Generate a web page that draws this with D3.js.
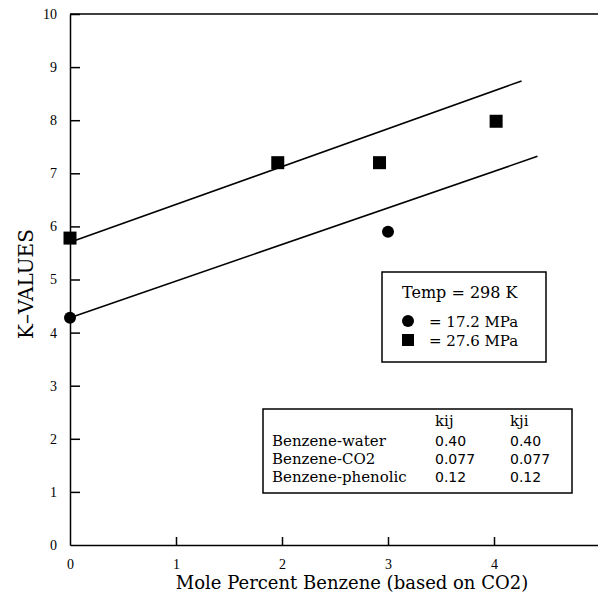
<!DOCTYPE html>
<html>

<head>
  <meta charset="utf-8">
  <title>K-values</title>
  <style>
    body {
      margin: 0;
      background: #fff;
    }

    svg {
      display: block;
    }

    .axis path,
    .axis line {
      stroke: #000;
      stroke-width: 1.5;
    }
  </style>
</head>

<body>
  <svg></svg>
  <script src="https://cdnjs.cloudflare.com/ajax/libs/d3/7.8.5/d3.min.js"></script>
  <script>
    var width = 598,
      height = 601;

    // measured points
    var lowP = [[0, 4.28], [3.0, 5.9]];          // 17.2 MPa
    var highP = [[0, 5.78], [1.96, 7.2], [2.92, 7.2], [4.02, 7.98]];  // 27.6 MPa
    // model curves
    var lowFit = [[0, 4.28], [4.41, 7.32]];
    var highFit = [[0, 5.7], [4.26, 8.74]];

    var xTicks = [0, 1, 2, 3, 4];
    var yTicks = [0, 1, 2, 3, 4, 5, 6, 7, 8, 9, 10];

    var legendTitle = "Temp = 298 K";
    var legendItems = ["= 17.2 MPa", "= 27.6 MPa"];

    var tableHead = ["", "kij", "kji"];
    var tableRows = [
      ["Benzene-water", "0.40", "0.40"],
      ["Benzene-CO2", "0.077", "0.077"],
      ["Benzene-phenolic", "0.12", "0.12"]
    ];

    var svg = d3.select("svg").attr("width", width).attr("height", height);

    var x = d3.scaleLinear().domain([0, 5]).range([70, 600]);
    var y = d3.scaleLinear().domain([0, 10]).range([545, 14]);

    // top frame line
    svg.append("line")
      .attr("x1", x(0)).attr("x2", x(5))
      .attr("y1", y(10)).attr("y2", y(10))
      .style("stroke", "#000").style("stroke-width", 1.5);

    var xAxis = svg.append("g").attr("class", "axis")
      .attr("transform", "translate(0," + y(0) + ")")
      .call(d3.axisBottom(x).tickValues(xTicks).tickFormat(d3.format("d"))
        .tickSizeInner(-8).tickSizeOuter(0).tickPadding(14));

    var yAxis = svg.append("g").attr("class", "axis")
      .attr("transform", "translate(" + x(0) + ",0)")
      .call(d3.axisLeft(y).tickValues(yTicks).tickFormat(d3.format("d"))
        .tickSizeInner(-10).tickSizeOuter(0).tickPadding(13));

    svg.selectAll(".axis text")
      .style("font-family", "Liberation Serif")
      .style("font-size", "14px")
      .style("fill", "#000");

    // hide the zero ticks on both axes
    svg.selectAll(".axis .tick").filter(d => d === 0).select("line").remove();

    var line = d3.line().x(d => x(d[0])).y(d => y(d[1]));

    svg.selectAll("path.fit").data([lowFit, highFit])
      .enter()
      .append("path")
      .attr("class", "fit")
      .attr("d", line)
      .style("fill", "none")
      .style("stroke", "#000")
      .style("stroke-width", 1.6);

    svg.selectAll("circle.pt").data(lowP)
      .enter()
      .append("circle")
      .attr("class", "pt")
      .attr("cx", d => x(d[0]))
      .attr("cy", d => y(d[1]))
      .attr("r", 6)
      .style("fill", "#000");

    var sq = 13;
    svg.selectAll("rect.pt").data(highP)
      .enter()
      .append("rect")
      .attr("class", "pt")
      .attr("x", d => x(d[0]) - sq / 2)
      .attr("y", d => y(d[1]) - sq / 2)
      .attr("width", sq)
      .attr("height", sq)
      .style("fill", "#000");

    // axis titles
    svg.append("text")
      .attr("x", 352).attr("y", 589)
      .attr("text-anchor", "middle")
      .style("font-family", "DejaVu Serif")
      .style("font-size", "18px")
      .text("Mole Percent Benzene (based on CO2)");

    svg.append("text")
      .attr("transform", "translate(33,284) rotate(-90)")
      .attr("text-anchor", "middle")
      .style("font-family", "DejaVu Serif")
      .style("font-size", "20px")
      .text("K\u2013VALUES");

    // legend
    var lg = svg.append("g");
    lg.append("rect")
      .attr("x", 382).attr("y", 272).attr("width", 164).attr("height", 90)
      .style("fill", "#fff").style("stroke", "#000").style("stroke-width", 1.5);
    lg.append("text")
      .attr("x", 402).attr("y", 298)
      .style("font-family", "DejaVu Serif").style("font-size", "16px")
      .text(legendTitle);
    lg.append("circle").attr("cx", 408).attr("cy", 321).attr("r", 6).style("fill", "#000");
    lg.append("rect").attr("x", 402).attr("y", 334).attr("width", 12).attr("height", 12).style("fill", "#000");
    lg.selectAll("text.item").data(legendItems)
      .enter()
      .append("text")
      .attr("class", "item")
      .attr("x", 429)
      .attr("y", (d, i) => 327 + i * 19)
      .style("font-family", "DejaVu Serif").style("font-size", "15px")
      .text(d => d);

    // parameter table
    var tb = svg.append("g");
    tb.append("rect")
      .attr("x", 263).attr("y", 409).attr("width", 309).attr("height", 84)
      .style("fill", "#fff").style("stroke", "#000").style("stroke-width", 1.5);
    var colX = [272, 435, 510];
    tb.selectAll("text.head").data(tableHead)
      .enter()
      .append("text")
      .attr("class", "head")
      .attr("x", (d, i) => colX[i]).attr("y", 426)
      .style("font-family", "DejaVu Serif").style("font-size", "15px")
      .text(d => d);
    tableRows.forEach(function (row, r) {
      tb.selectAll("text.r" + r).data(row)
        .enter()
        .append("text")
        .attr("class", "r" + r)
        .attr("x", (d, i) => colX[i]).attr("y", 446 + r * 18)
        .style("font-family", (d, i) => i === 0 ? "DejaVu Serif" : "DejaVu Sans")
        .style("font-size", (d, i) => i === 0 ? "15px" : "14px")
        .text(d => d);
    });
  </script>
</body>

</html>
